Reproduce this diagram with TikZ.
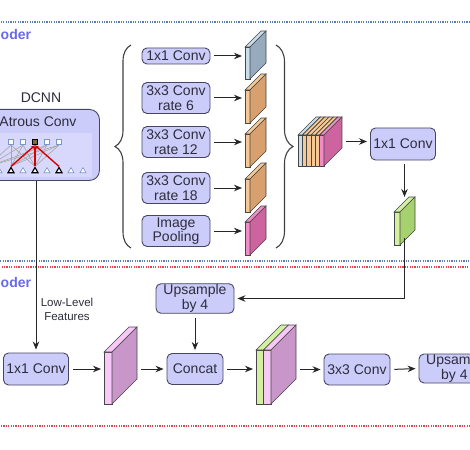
\documentclass[tikz,border=0pt]{standalone}
\usepackage{fontspec}
\setmainfont{Liberation Sans}
\usetikzlibrary{arrows.meta,shapes.geometric,decorations.pathreplacing}
\definecolor{boxfill}{RGB}{204,204,250}
\definecolor{boxline}{RGB}{70,70,100}
\definecolor{txt}{RGB}{45,45,60}
\definecolor{edge}{RGB}{70,70,70}
\definecolor{encblue}{RGB}{90,125,175}
\definecolor{decred}{RGB}{220,70,85}
\definecolor{headtxt}{RGB}{105,105,235}
\definecolor{band}{RGB}{216,216,252}
\definecolor{unitblue}{RGB}{120,150,200}
\definecolor{lblue}{RGB}{200,222,235}
\definecolor{dblue}{RGB}{150,172,190}
\definecolor{lorange}{RGB}{245,200,150}
\definecolor{dorange}{RGB}{215,160,110}
\definecolor{lmag}{RGB}{240,140,200}
\definecolor{dmag}{RGB}{205,100,160}
\definecolor{lgreen}{RGB}{210,240,160}
\definecolor{dgreen}{RGB}{165,210,110}
\definecolor{lviolet}{RGB}{248,200,248}
\definecolor{dviolet}{RGB}{200,150,200}

\tikzset{
  box/.style={draw=boxline, fill=boxfill, rounded corners=5pt, line width=0.9pt,
    inner sep=1pt, align=center, text=txt, font=\fontsize{14}{14.5}\selectfont},
  arr/.style={-{Stealth[length=8pt,width=6.5pt]}, line width=1pt, black!85,
    shorten <=4pt, shorten >=3pt},
  region/.style={line width=1.8pt, dash pattern=on 1.2pt off 1.2pt},
  head/.style={font=\bfseries\fontsize{14}{16}\selectfont, text=headtxt, anchor=base west, inner sep=0pt},
  curly/.style={decorate, decoration={brace, amplitude=#1}, line width=1.1pt, black!75},
  tri/.style={regular polygon, regular polygon sides=3, minimum size=7pt, inner sep=0pt,
    draw=unitblue, line width=0.6pt, fill=white},
  unitsq/.style={rectangle, minimum size=5.5pt, inner sep=0pt, draw=unitblue,
    line width=0.6pt, fill=white},
  unitline/.style={black!35, line width=0.6pt},
}

% slab: name, x, y (front top left), strip width, height, depth, side colour, front colours
\newcommand{\drawslab}[8]{%
  \foreach \c [count=\i from 0] in {#8} {
    \filldraw[fill=\c, draw=edge, line width=0.6pt] (#2+\i*#4,#3) rectangle ++(#4,#5);
    \filldraw[fill=\c, draw=edge, line width=0.6pt] (#2+\i*#4,#3) -- ++(#6,-#6) -- ++(#4,0) -- ++(-#6,#6) -- cycle;
    \xdef\slabn{\i}
  }
  \pgfmathsetmacro\slabr{#2+(\slabn+1)*#4}
  \filldraw[fill=#7, draw=edge, line width=0.6pt] (\slabr,#3) -- ++(#6,-#6) -- ++(0,#5) -- ++(-#6,#6) -- cycle;
  \coordinate (#1-w) at (#2,#3+#5/2-#6/2);
  \coordinate (#1-e) at (\slabr+#6,#3+#5/2-#6/2);
  \coordinate (#1-n) at (#2/2+\slabr/2+#6/2,#3-#6);
  \coordinate (#1-s) at (#2/2+\slabr/2+#6/2,#3+#5-#6/2);
}

\begin{document}
\begin{tikzpicture}[x=1pt,y=-1pt]
\clip (0,0) rectangle (470,449);

% encoder / decoder regions
\draw[region, encblue] (-20,22) rectangle (490,261);
\draw[region, decred] (-20,267) rectangle (490,426);
\node[head] (enclab) at (0.5,40) {oder};
\node[head] (declab) at (0.5,287) {oder};

% DCNN
\node[font=\fontsize{14}{16}\selectfont, text=txt] (dcnn) at (41,98) {DCNN};
\node[box, rounded corners=10pt, minimum width=120pt, minimum height=71pt, anchor=north west] (atrous) at (-21,109) {};
\node[font=\fontsize{14}{16}\selectfont, text=txt] (atroustxt) at (38,122) {Atrous Conv};
\fill[band] (-21,133) rectangle (92,177);
\foreach \j in {0,...,8} \node[tri] (t\j) at (-13+12*\j,171) {};
\foreach \j in {2,4,6} \node[tri, draw=black, line width=1.1pt] (t\j) at (-13+12*\j,171) {};
\foreach \k in {0,...,4} \node[unitsq] (s\k) at (11+12*\k,142) {};
\node[unitsq, draw=black, line width=1pt, fill={rgb,255:red,120;green,110;blue,60}] (s2) at (35,142) {};
\foreach \k in {0,1,3,4}
  \foreach \d [evaluate=\d as \j using int(\k+\d)] in {0,2,4}
    \draw[unitline] (s\k.south) -- (t\j.north);
\foreach \j in {2,4,6} \draw[red!85!black, line width=1.4pt, -{Stealth[length=4pt]}] (t\j.north) -- (s2.south);

% ASPP
\draw[curly=16pt] (131,248) -- (131,45);
\node[box, minimum width=68pt, minimum height=16pt] (b1) at (176,56) {1x1 Conv};
\node[box, minimum width=68pt, minimum height=31pt] (b6) at (176,98) {3x3 Conv\\rate 6};
\node[box, minimum width=68pt, minimum height=31pt] (b12) at (176,142) {3x3 Conv\\rate 12};
\node[box, minimum width=68pt, minimum height=31pt] (b18) at (176,188) {3x3 Conv\\rate 18};
\node[box, minimum width=68pt, minimum height=31pt] (pool) at (176,231) {Image\\Pooling};

\drawslab{s1}{245}{47}{5}{32}{16}{dblue}{lblue}
\drawslab{s6}{245}{90}{5}{33}{16}{dorange}{lorange}
\drawslab{s12}{245}{134}{5}{33}{16}{dorange}{lorange}
\drawslab{s18}{245}{179}{5}{33}{16}{dorange}{lorange}
\drawslab{sp}{245}{222}{5}{33}{16}{dmag}{lmag}

\draw[arr] (b1.east) -- (b1.east -| s1-w);
\draw[arr] (b6.east) -- (b6.east -| s6-w);
\draw[arr] (b12.east) -- (b12.east -| s12-w);
\draw[arr] (b18.east) -- (b18.east -| s18-w);
\draw[arr] (pool.east) -- (pool.east -| sp-w);
\draw[curly=17pt] (276,45) -- (276,248);

\drawslab{cat}{298}{135}{4.33}{31}{18}{dmag}{lblue,lorange,lorange,lorange,lorange,lmag}
\node[box, minimum width=65pt, minimum height=32pt] (c1r) at (403,144) {1x1 Conv};
\draw[arr] (cat-e) -- (cat-e -| c1r.west);
\drawslab{gr}{394}{212}{6}{33}{15}{dgreen}{lgreen}
\draw[arr, shorten >=0pt] (c1r.south -| gr-n) -- (gr-n);

% decoder
\node[box, minimum width=65pt, minimum height=32pt] (lowconv) at (36,369) {1x1 Conv};
\draw[arr, shorten <=0pt] (atrous.south -| lowconv.north) -- (lowconv.north);
\node[font=\fontsize{11.5}{14}\selectfont, text=txt, align=center] (lowlab) at (67,309) {Low-Level\\Features};
\drawslab{pk}{104}{352}{8}{52}{25}{dviolet}{lviolet}
\node[box, minimum width=56pt, minimum height=31pt] (concat) at (195,369) {Concat};
\node[box, minimum width=78pt, minimum height=29pt] (ups) at (195,298.5) {Upsample\\by 4};
\drawslab{gp}{256}{350}{7.5}{54}{25}{dviolet}{lgreen,lviolet}
\node[box, minimum width=66pt, minimum height=31pt] (conv3) at (357,369.5) {3x3 Conv};
\node[box, minimum width=78pt, minimum height=29pt] (ups2) at (458,368.5) {};
\node[text=txt, font=\fontsize{14}{14.5}\selectfont, align=left, anchor=west, inner sep=0pt] (ups2txt) at (426,368.5) {Upsam\\\hspace*{15pt}by 4};

\draw[arr] (lowconv.east) -- (lowconv.east -| pk-w);
\draw[arr] (concat.west -| pk-e) -- (concat.west);
\draw[arr] (ups.south) -- (concat.north);
\draw[arr, shorten <=0pt] (gr-s) |- (ups.east);
\draw[arr] (concat.east) -- (concat.east -| gp-w);
\draw[arr] (conv3.west -| gp-e) -- (conv3.west);
\draw[arr] (conv3.east) -- (ups2.west);
\end{tikzpicture}
\end{document}
